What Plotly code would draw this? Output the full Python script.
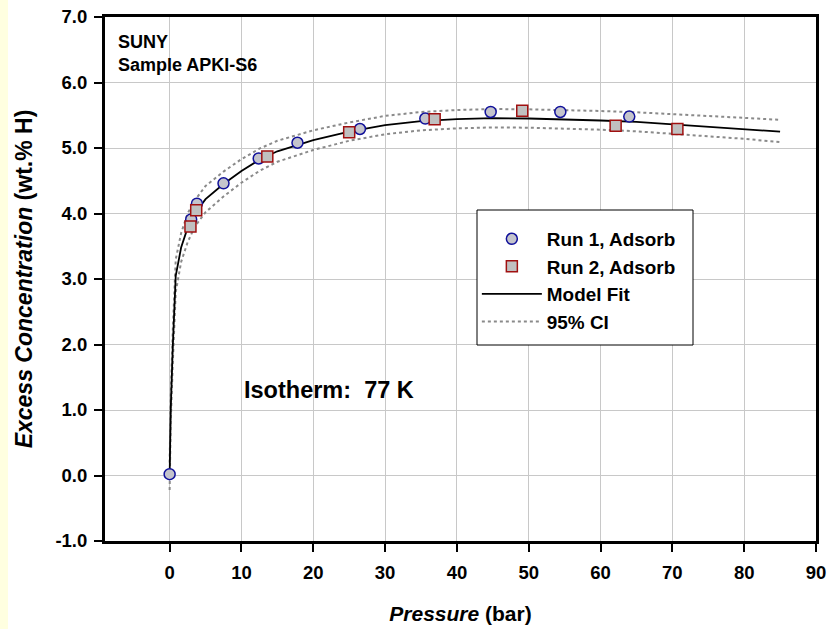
import plotly.graph_objects as go

# Run 1, Adsorb (circles)
run1_p = [0.0, 3.0, 3.8, 7.5, 12.4, 17.8, 26.5, 35.6, 44.7, 54.4, 64.0]
run1_c = [0.02, 3.91, 4.15, 4.46, 4.84, 5.08, 5.29, 5.45, 5.55, 5.55, 5.48]

# Run 2, Adsorb (squares)
run2_p = [2.9, 3.7, 13.6, 25.0, 36.9, 49.1, 62.1, 70.7]
run2_c = [3.80, 4.05, 4.87, 5.24, 5.44, 5.57, 5.34, 5.29]

# Model fit and 95% confidence interval
fit_p = [0, 0.15, 0.45, 0.85, 1.6, 2.5, 3.5, 5, 7.5, 10, 12.5, 15, 20, 25, 30,
         35, 40, 45, 50, 55, 60, 65, 70, 75, 80, 85]
fit_c = [0.0, 1.0, 2.0, 3.05, 3.48, 3.78, 4.0, 4.22, 4.45, 4.65, 4.82, 4.95, 5.12,
         5.25, 5.35, 5.41, 5.44, 5.455, 5.45, 5.44, 5.42, 5.40, 5.36, 5.33, 5.29, 5.25]
ci_upper = [0.2, 1.2, 2.25, 3.3, 3.7, 4.0, 4.2, 4.42, 4.64, 4.83, 4.99, 5.11, 5.27,
            5.39, 5.49, 5.55, 5.58, 5.595, 5.59, 5.58, 5.565, 5.545, 5.52, 5.49, 5.46, 5.43]
ci_lower = [-0.22, 0.8, 1.75, 2.8, 3.26, 3.56, 3.8, 4.02, 4.26, 4.47, 4.65, 4.79, 4.97,
            5.11, 5.21, 5.27, 5.30, 5.315, 5.31, 5.30, 5.28, 5.255, 5.22, 5.18, 5.14, 5.09]

x_ticks = [0, 10, 20, 30, 40, 50, 60, 70, 80, 90]
y_ticks = [-1, 0, 1, 2, 3, 4, 5, 6, 7]
y_tick_labels = ["-1.0", "0.0", "1.0", "2.0", "3.0", "4.0", "5.0", "6.0", "7.0"]

FONT = "Liberation Sans, Arial, Helvetica, sans-serif"
PW, PH = 711, 524  # plot area size in px

fig = go.Figure()

fig.add_trace(go.Scatter(
    x=fit_p, y=ci_upper, mode="lines", name="<b>95% CI</b>", showlegend=False,
    line=dict(color="#8a8a8a", width=2, dash="3px,3px"), legendrank=4))
fig.add_trace(go.Scatter(
    x=fit_p, y=ci_lower, mode="lines", name="<b>95% CI</b>",
    line=dict(color="#8a8a8a", width=2, dash="3px,3px"), legendrank=4))
fig.add_trace(go.Scatter(
    x=fit_p, y=fit_c, mode="lines", name="<b>Model Fit</b>",
    line=dict(color="black", width=1.8), legendrank=3))
fig.add_trace(go.Scatter(
    x=run1_p, y=run1_c, mode="markers", name="<b>Run 1, Adsorb</b>",
    marker=dict(symbol="circle", size=11, color="#c4c4cc",
                line=dict(color="#10109a", width=1.5)), legendrank=1))
fig.add_trace(go.Scatter(
    x=run2_p, y=run2_c, mode="markers", name="<b>Run 2, Adsorb</b>",
    marker=dict(symbol="square", size=11, color="#c0c0c0",
                line=dict(color="#a01010", width=1.5)), legendrank=2))

fig.update_layout(
    width=831, height=629,
    margin=dict(l=105, r=15, t=17, b=88, autoexpand=False),
    paper_bgcolor="white", plot_bgcolor="white",
    font=dict(family=FONT, color="black"),
    showlegend=True,
    legend=dict(
        x=0.523, y=(541 - 220) / PH, xanchor="left", yanchor="top",
        bgcolor="rgba(0,0,0,0)", borderwidth=0,
        font=dict(size=18.9, family=FONT, color="black"),
        itemwidth=60, tracegroupgap=0,
    ),
    xaxis=dict(
        range=[-9, 90], tickvals=x_ticks, ticktext=[f"<b>{v}</b>" for v in x_ticks],
        showgrid=True, gridcolor="#c8c8c8", gridwidth=1,
        showline=True, linecolor="black", linewidth=3, mirror=True,
        ticks="outside", ticklen=8, tickwidth=2, tickcolor="black",
        ticklabelstandoff=5, automargin=False,
        tickfont=dict(size=18.5, family=FONT),
        zeroline=False,
        title=dict(text="<b><i>Pressure</i> (bar)</b>", font=dict(size=21, family=FONT),
                   standoff=25),
    ),
    yaxis=dict(
        range=[-1, 7], tickvals=y_ticks, ticktext=[f"<b>{t}</b>" for t in y_tick_labels],
        showgrid=True, gridcolor="#c8c8c8", gridwidth=1,
        showline=True, linecolor="black", linewidth=3, mirror=True,
        ticks="outside", ticklen=8, tickwidth=2, tickcolor="black",
        ticklabelstandoff=3, automargin=False,
        tickfont=dict(size=18.5, family=FONT),
        zeroline=False,
        title=dict(text="<b><i>Excess Concentration</i> (wt.% H)</b>",
                   font=dict(size=23, family=FONT), standoff=17),
    ),
    shapes=[
        dict(type="rect", xref="paper", yref="paper",
             x0=-105 / PW, x1=(8 - 105) / PW, y0=-88 / PH, y1=1 + 17 / PH,
             fillcolor="#ffffe0", line=dict(width=0), layer="below"),
        dict(type="rect", xref="paper", yref="paper",
             x0=(477 - 105) / PW, x1=(693 - 105) / PW,
             y0=(541 - 345) / PH, y1=(541 - 210) / PH,
             fillcolor="white", line=dict(color="black", width=1), layer="above"),
    ],
    annotations=[
        dict(xref="paper", yref="paper", x=0.016, y=0.976, xanchor="left", yanchor="top",
             text="<b>SUNY<br>Sample APKI-S6</b>", showarrow=False, align="left",
             font=dict(size=18, family=FONT)),
        dict(xref="x", yref="y", x=10.1, y=1.3, xanchor="left", yanchor="middle",
             text="<b>Isotherm:&nbsp; 77 K</b>", showarrow=False,
             font=dict(size=23.5, family=FONT)),
    ],
)

fig.write_html(
    "out.html",
    config={"displayModeBar": False},
    post_script="document.body.style.margin='0';document.body.style.overflow='hidden';",
)
